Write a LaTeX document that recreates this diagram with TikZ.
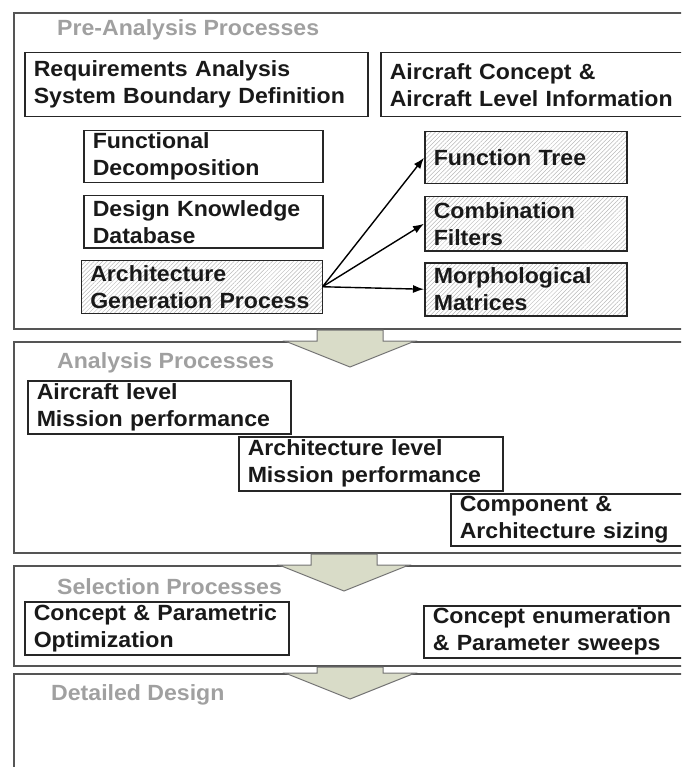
\documentclass[tikz,border=0pt]{standalone}
\usepackage{fontspec}
\setmainfont{Liberation Sans}[FakeStretch=1.05]
\usetikzlibrary{arrows.meta,patterns.meta}
\definecolor{framegray}{HTML}{555555}
\definecolor{titlegray}{HTML}{A0A0A0}
\definecolor{olivefill}{HTML}{D9DCC8}
\tikzset{
  frame/.style={draw=framegray, line width=2pt, anchor=north west, inner sep=0pt},
  proc/.style={draw=black!85, line width=1.5pt, anchor=north west, align=left,
    inner xsep=9pt, inner ysep=0pt, text=black!90,
    font=\fontsize{22}{27}\selectfont\bfseries},
  hatched/.style={proc, pattern={Lines[angle=45,distance=3pt,line width=0.5pt]},
    pattern color=black!28},
  title/.style={anchor=west, inner sep=0pt, text=titlegray,
    font=\fontsize{22}{27}\selectfont\bfseries},
  link/.style={-{Latex[length=11pt,width=8pt]}, line width=1.4pt},
  flow/.style={fill=olivefill, draw=black!55, line width=1pt}
}

\begin{document}
\begin{tikzpicture}[x=1pt,y=1pt]
\useasboundingbox (0,0) rectangle (681,-767);
\clip (0,0) rectangle (681,-767);

% pre-analysis
\node [frame, minimum width=690pt, minimum height=316pt] (pre) at (13,-12) {};
\node [title] (preTitle) at (57,-30) {Pre-Analysis Processes};
\node [proc, minimum width=343pt, minimum height=64pt, text width=325pt] (req) at (24,-52)
  {Requirements Analysis\\System Boundary Definition};
\node [proc, minimum width=330pt, minimum height=64pt, text width=312pt] (acc) at (380,-52)
  {Aircraft Concept \&\\Aircraft Level Information};
\node [proc, minimum width=239pt, minimum height=52pt, text width=221pt] (fd) at (83,-130)
  {Functional\\Decomposition};
\node [proc, minimum width=239pt, minimum height=52pt, text width=221pt] (dk) at (83,-195)
  {Design Knowledge\\Database};
\node [hatched, minimum width=241pt, minimum height=53pt, text width=223pt] (ag) at (81,-260)
  {Architecture\\Generation Process};
\node [hatched, minimum width=202pt, minimum height=52pt, text width=184pt] (ft) at (424,-131)
  {Function Tree};
\node [hatched, minimum width=202pt, minimum height=54pt, text width=184pt] (cf) at (424,-196)
  {Combination\\Filters};
\node [hatched, minimum width=202pt, minimum height=53pt, text width=184pt] (mm) at (424,-262)
  {Morphological\\Matrices};
\foreach \t in {ft,cf,mm}
  \draw [link] (ag.east) -- (\t.west);

% analysis
\node [frame, minimum width=690pt, minimum height=211pt] (ana) at (13,-341) {};
\node [title] (anaTitle) at (57,-363) {Analysis Processes};
\node [proc, minimum width=263pt, minimum height=53pt, text width=245pt] (acl) at (27,-380)
  {Aircraft level\\Mission performance};
\node [proc, minimum width=264pt, minimum height=54pt, text width=246pt] (arl) at (238,-436)
  {Architecture level\\Mission performance};
\node [proc, minimum width=260pt, minimum height=52pt, text width=242pt] (car) at (450,-493)
  {Component \&\\Architecture sizing};

% selection
\node [frame, minimum width=690pt, minimum height=100pt] (sel) at (13,-565) {};
\node [title] (selTitle) at (57,-587) {Selection Processes};
\node [proc, minimum width=264pt, minimum height=53pt, text width=246pt] (cpo) at (24,-601)
  {Concept \& Parametric\\Optimization};
\node [proc, minimum width=280pt, minimum height=52pt, text width=262pt] (cen) at (423,-605)
  {Concept enumeration\\\& Parameter sweeps};

% detailed design
\node [frame, minimum width=690pt, minimum height=130pt] (det) at (13,-673) {};
\node [title] (detTitle) at (51,-695) {Detailed Design};

% block arrows between stages
\foreach \a/\b/\c in {pre/ana/350,ana/sel/344,sel/det/350}
  \draw [flow] (\c-33,0 |- \a.south) -- (\c+33,0 |- \a.south) -- (\c+33,0 |- \b.north)
    -- ++(32,0) -- ++(-65,-26) -- ++(-65,26) -- ++(32,0) -- cycle;
\end{tikzpicture}
\end{document}
